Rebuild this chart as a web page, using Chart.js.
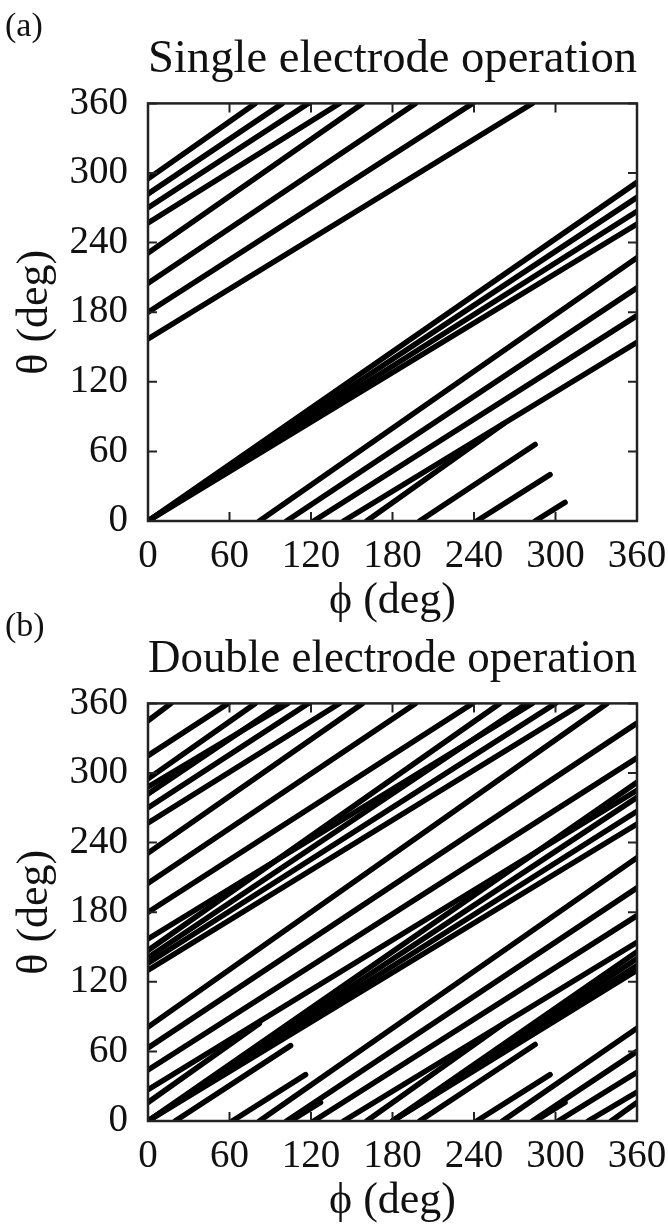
<!DOCTYPE html>
<html>
<head>
<meta charset="utf-8">
<script src="https://cdn.jsdelivr.net/npm/chart.js@4.4.1/dist/chart.umd.min.js"></script>
<style>
  body { margin: 0; background: #fff; }
  .panel { position: absolute; left: 0; width: 668px; height: 628px; }
  #panelA { top: 0; }
  #panelB { top: 600px; }
</style>
</head>
<body>
<div class="panel" id="panelA"><canvas id="chartA"></canvas></div>
<div class="panel" id="panelB"><canvas id="chartB"></canvas></div>
<script>
const tickValues = [0, 60, 120, 180, 240, 300, 360];
const panelLabels = ["(a)", "(b)"];
const panelTitles = ["Single electrode operation", "Double electrode operation"];
const xAxisTitle = "\u03d5 (deg)";
const yAxisTitle = "\u03b8 (deg)";

// each segment: [phiStart, thetaStart, phiEnd, thetaEnd]
const singleSegments = [
    [0, 0, 360, 292], [0, 0, 360, 279], [0, 0, 360, 267], [0, 0, 360, 256],
    [0, 295, 79, 360], [0, 282, 99, 360], [0, 270, 118, 360], [0, 257, 141, 360],
    [82, 0, 360, 227], [102, 0, 360, 201], [122, 0, 360, 177], [144, 0, 360, 154],
    [0, 231, 158, 360], [0, 205, 197, 360], [0, 180, 239, 360], [0, 157, 283, 360],
    [161, 0, 262, 84], [200, 0, 285, 66], [242, 0, 296, 40], [285, 0, 307, 16]
];

const doubleSegments = [
    [0, 0, 360, 292], [0, 0, 360, 279], [0, 0, 360, 267], [0, 0, 360, 256],
    [0, 295, 79, 360], [0, 282, 99, 360], [0, 270, 118, 360], [0, 257, 141, 360],
    [82, 0, 360, 227], [102, 0, 360, 201], [122, 0, 360, 177], [144, 0, 360, 154],
    [0, 231, 158, 360], [0, 205, 197, 360], [0, 180, 239, 360], [0, 157, 283, 360],
    [161, 0, 262, 84], [200, 0, 285, 66], [242, 0, 296, 40], [285, 0, 307, 16],
    [180, 0, 360, 146], [180, 0, 360, 140], [180, 0, 360, 134], [180, 0, 360, 130],
    [0, 147, 259, 360], [0, 141, 279, 360], [0, 136, 300, 360], [0, 130, 320, 360],
    [261, 0, 360, 80], [283, 0, 360, 60], [302, 0, 360, 42], [324, 0, 360, 25],
    [0, 81, 338, 360], [0, 63, 360, 343], [0, 44, 360, 313], [0, 27, 360, 285],
    [0, 345, 17, 360], [0, 315, 59, 360], [0, 288, 103, 360],
    [341, 0, 360, 16], [0, 16, 82, 84],
    [20, 0, 105, 65], [62, 0, 116, 40], [105, 0, 127, 16]
];

Chart.defaults.font.family = "'Liberation Serif', 'Times New Roman', serif";
Chart.defaults.color = "#111";


/* =========================
   FRAME WITH INWARD TICKS
========================= */

const framePlugin = {
    id: "frame",
    afterDatasetsDraw(chart) {
        const ctx = chart.ctx;
        const { left, right, top, bottom } = chart.chartArea;
        const x = chart.scales.x;
        const y = chart.scales.y;
        const len = 9;

        ctx.save();
        ctx.strokeStyle = "#222";
        ctx.lineWidth = 2.5;
        ctx.strokeRect(left, top, right - left, bottom - top);

        ctx.lineWidth = 2;
        ctx.beginPath();
        tickValues.forEach(v => {
            const px = x.getPixelForValue(v);
            const py = y.getPixelForValue(v);
            ctx.moveTo(px, bottom); ctx.lineTo(px, bottom - len);
            ctx.moveTo(px, top); ctx.lineTo(px, top + len);
            ctx.moveTo(left, py); ctx.lineTo(left + len, py);
            ctx.moveTo(right, py); ctx.lineTo(right - len, py);
        });
        ctx.stroke();
        ctx.restore();
    }
};

const panelLabelPlugin = {
    id: "panelLabel",
    afterDraw(chart, args, opts) {
        const ctx = chart.ctx;
        ctx.save();
        ctx.font = "34px 'Liberation Serif', serif";
        ctx.fillStyle = "#111";
        ctx.textBaseline = "middle";
        ctx.textAlign = "left";
        ctx.fillText(opts.text, 5, 27);
        ctx.restore();
    }
};


/* =========================
   PANEL RENDER
========================= */

function renderPanel(canvasId, label, title, segments) {

    const ctx = document.getElementById(canvasId).getContext("2d");

    const datasets = segments.map(s => ({
        data: [{ x: s[0], y: s[1] }, { x: s[2], y: s[3] }],
        showLine: true,
        borderColor: "#000",
        borderWidth: 5.5,
        borderCapStyle: "round",
        pointRadius: 0,
        tension: 0
    }));

    const tickFont = { size: 39 };
    const titleFont = { size: 44 };

    return new Chart(ctx, {
        type: "scatter",
        data: { datasets },
        options: {
            responsive: true,
            maintainAspectRatio: false,
            animation: false,
            layout: { padding: { left: 9, right: 31, top: 0, bottom: 0 } },
            plugins: {
                legend: { display: false },
                tooltip: { enabled: false },
                title: {
                    display: true,
                    text: title,
                    fullSize: false,
                    color: "#111",
                    font: { size: 47, weight: "normal" },
                    padding: { top: 31, bottom: 16 }
                },
                panelLabel: { text: label }
            },
            scales: {
                x: {
                    type: "linear",
                    min: 0,
                    max: 360,
                    afterBuildTicks: scale => {
                        scale.ticks = tickValues.map(v => ({ value: v }));
                    },
                    grid: { display: false },
                    border: { display: false },
                    ticks: { font: tickFont, padding: 4, maxRotation: 0, autoSkip: false },
                    title: { display: true, text: xAxisTitle, font: titleFont, padding: { top: 0, bottom: 0 } },
                    afterFit: scale => {
                        scale.height = 107;
                        scale.paddingLeft = 0;
                        scale.paddingRight = 0;
                    }
                },
                y: {
                    type: "linear",
                    min: 0,
                    max: 360,
                    afterBuildTicks: scale => {
                        scale.ticks = tickValues.map(v => ({ value: v }));
                    },
                    grid: { display: false },
                    border: { display: false },
                    ticks: { font: tickFont, padding: 12, autoSkip: false },
                    title: { display: true, text: yAxisTitle, font: titleFont, padding: { top: 0, bottom: 0 } },
                    afterFit: scale => {
                        scale.width = 139;
                        scale.paddingTop = 0;
                        scale.paddingBottom = 0;
                    }
                }
            }
        },
        plugins: [framePlugin, panelLabelPlugin]
    });
}

renderPanel("chartA", panelLabels[0], panelTitles[0], singleSegments);
renderPanel("chartB", panelLabels[1], panelTitles[1], doubleSegments);
</script>
</body>
</html>
